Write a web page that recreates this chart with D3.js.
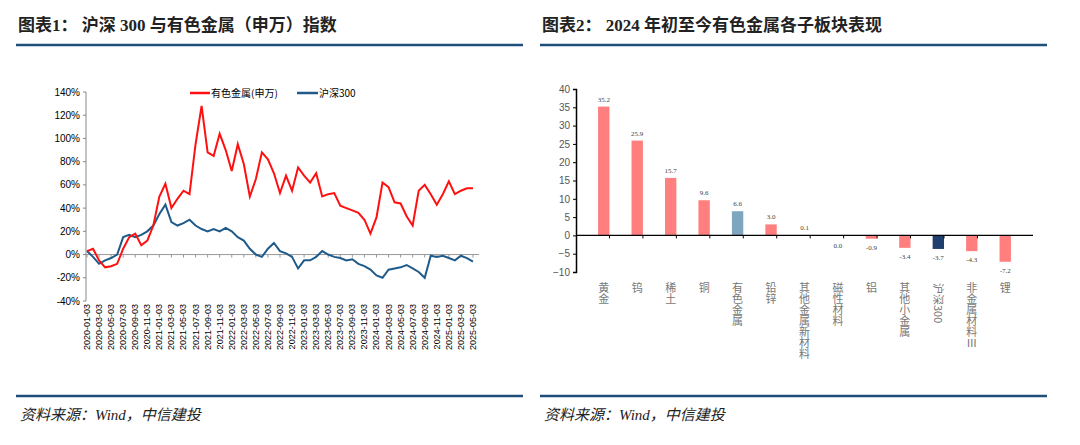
<!DOCTYPE html><html><head><meta charset="utf-8">
<script src="https://cdn.jsdelivr.net/npm/d3@7"></script>
<style>body{margin:0;background:#fff}svg{font-family:"Liberation Serif","Noto Sans CJK SC",serif}</style></head><body>
<svg id="c" width="1080" height="445"></svg>
<script>
const metalSeries=[3,5,-5,-11,-10,-8,5,15,18,8,12,25,50,61,40,48,55,52,95,128,88,85,104,90,72,95,78,50,65,88,82,70,53,68,55,75,68,62,70,50,52,53,42,40,38,36,30,18,32,62,58,45,44,33,25,55,60,52,43,52,63,52,55,57,57];
const hs300Series=[3,-2,-8,-5,-3,0,15,17,15,17,20,25,35,43,28,25,27,30,25,22,20,22,20,23,20,15,12,5,0,-2,5,10,3,1,-2,-12,-5,-5,-2,3,0,-2,-3,-5,-4,-8,-10,-13,-18,-20,-13,-12,-11,-9,-12,-15,-20,-1,-2,-1,-3,-5,-1,-3,-6];
const leftTicks=[-40,-20,0,20,40,60,80,100,120,140];
const dateLabels=[];for(let y=2020;y<=2025;y++)for(let m=1;m<=11;m+=2){if(y===2025&&m>5)break;dateLabels.push(`${y}-${String(m).padStart(2,"0")}-03`);}
const barCats=["黄金","钨","稀土","铜","有色金属","铅锌","其他金属新材料","磁性材料","铝","其他小金属","沪深300","非金属材料Ⅲ","锂"];
const barVals=[35.2,25.9,15.7,9.6,6.6,3.0,0.1,0.0,-0.9,-3.4,-3.7,-4.3,-7.2];
const barTicks=[-10,-5,0,5,10,15,20,25,30,35,40];

const svg=d3.select("#c");
function header(x,t){svg.append("text").attr("x",x).attr("y",31).attr("font-size",17).attr("font-weight","bold").attr("fill","#222").text(t);
svg.append("line").attr("x1",x-2).attr("x2",x+505).attr("y1",45).attr("y2",45).attr("stroke","#1f4e79").attr("stroke-width",2.5);
svg.append("line").attr("x1",x-2).attr("x2",x+505).attr("y1",396).attr("y2",396).attr("stroke","#1f4e79").attr("stroke-width",2.5);
svg.append("text").attr("x",x+2).attr("y",420).attr("font-size",15).attr("font-style","italic").attr("fill","#222").text("资料来源：Wind，中信建投");}
header(18,"图表1：  沪深 300 与有色金属（申万）指数");
header(542,"图表2：  2024 年初至今有色金属各子板块表现");

const x=d3.scaleLinear().domain([0,65]).range([87,479]);
const y=d3.scaleLinear().domain([-40,140]).range([301,92]);
const g=svg.append("g").attr("font-family","Liberation Sans,Arial,sans-serif");
g.append("line").attr("x1",86).attr("x2",86).attr("y1",92).attr("y2",301).attr("stroke","#888");
leftTicks.forEach(t=>{g.append("text").attr("x",80).attr("y",y(t)+3.5).attr("text-anchor","end").attr("font-size",10).text(t+"%");
g.append("line").attr("x1",83).attr("x2",86).attr("y1",y(t)).attr("y2",y(t)).attr("stroke","#888");});
g.append("line").attr("x1",86).attr("x2",479).attr("y1",y(0)).attr("y2",y(0)).attr("stroke","#999");
dateLabels.forEach((d,i)=>{const xx=x(i*2);
g.append("line").attr("x1",xx).attr("x2",xx).attr("y1",y(0)).attr("y2",y(0)+3).attr("stroke","#999");
g.append("text").attr("transform",`translate(${xx+3},${304}) rotate(-90)`).attr("text-anchor","end").attr("font-size",9).text(d);});
const line=d3.line().x((d,i)=>x(i)).y(d=>y(d));
g.append("path").attr("d",line(hs300Series)).attr("fill","none").attr("stroke","#1f5b8a").attr("stroke-width",2);
g.append("path").attr("d",line(metalSeries)).attr("fill","none").attr("stroke","#ff1010").attr("stroke-width",2);
g.append("line").attr("x1",190).attr("x2",210).attr("y1",93).attr("y2",93).attr("stroke","#ff1010").attr("stroke-width",2.5);
g.append("text").attr("x",211).attr("y",97).attr("font-size",10).attr("font-family","Noto Sans CJK SC").text("有色金属(申万)");
g.append("line").attr("x1",297).attr("x2",318).attr("y1",93).attr("y2",93).attr("stroke","#1f5b8a").attr("stroke-width",2.5);
g.append("text").attr("x",319).attr("y",97).attr("font-size",10).attr("font-family","Noto Sans CJK SC").text("沪深300");

const xb=d3.scaleBand().domain(barCats).range([576,1033]).padding(0.66);
const yb=d3.scaleLinear().domain([-10,40]).range([272,89]);
const r=svg.append("g");
r.append("g").attr("transform","translate(576,0)").call(d3.axisLeft(yb).tickValues(barTicks).tickSize(3)).call(a=>{a.select(".domain").attr("stroke","#000").attr("stroke-width",1.5);a.selectAll("text").attr("font-size",10).attr("fill","#555").attr("font-family","Liberation Sans,Arial");});
r.selectAll("rect").data(barVals).join("rect").attr("x",(d,i)=>xb(barCats[i])).attr("width",xb.bandwidth())
 .attr("y",d=>yb(Math.max(0,d))).attr("height",d=>Math.abs(yb(d)-yb(0)))
 .attr("fill",(d,i)=>barCats[i]==="有色金属"?"#7fa6c0":barCats[i]==="沪深300"?"#1f3f6f":"#ff7f7f");
r.append("line").attr("x1",576).attr("x2",1033).attr("y1",yb(0)).attr("y2",yb(0)).attr("stroke","#000").attr("stroke-width",1.2);
barCats.forEach((c,i)=>{if(i>0){const xx=xb.step()*i+576;r.append("line").attr("x1",xx).attr("x2",xx).attr("y1",yb(0)).attr("y2",yb(0)+3).attr("stroke","#000");}
const cx=xb(c)+xb.bandwidth()/2;const v=barVals[i];
r.append("text").attr("x",cx).attr("y",v>0.05?yb(v)-5:(v===0?yb(0)+13:yb(v)+11)).attr("text-anchor","middle").attr("font-size",7).attr("fill","#444").text(v.toFixed(1));
if(c==="沪深300"){r.append("text").attr("transform",`translate(${cx-4},283) rotate(90)`).attr("font-size",11).attr("fill","#777").attr("font-family","Noto Sans CJK SC").text(c);}
else{Array.from(c).forEach((ch,k)=>{r.append("text").attr("x",cx).attr("y",292+k*11).attr("text-anchor","middle").attr("font-size",11).attr("fill","#777").attr("font-family","Noto Sans CJK SC").text(ch);});}
});
</script></body></html>
